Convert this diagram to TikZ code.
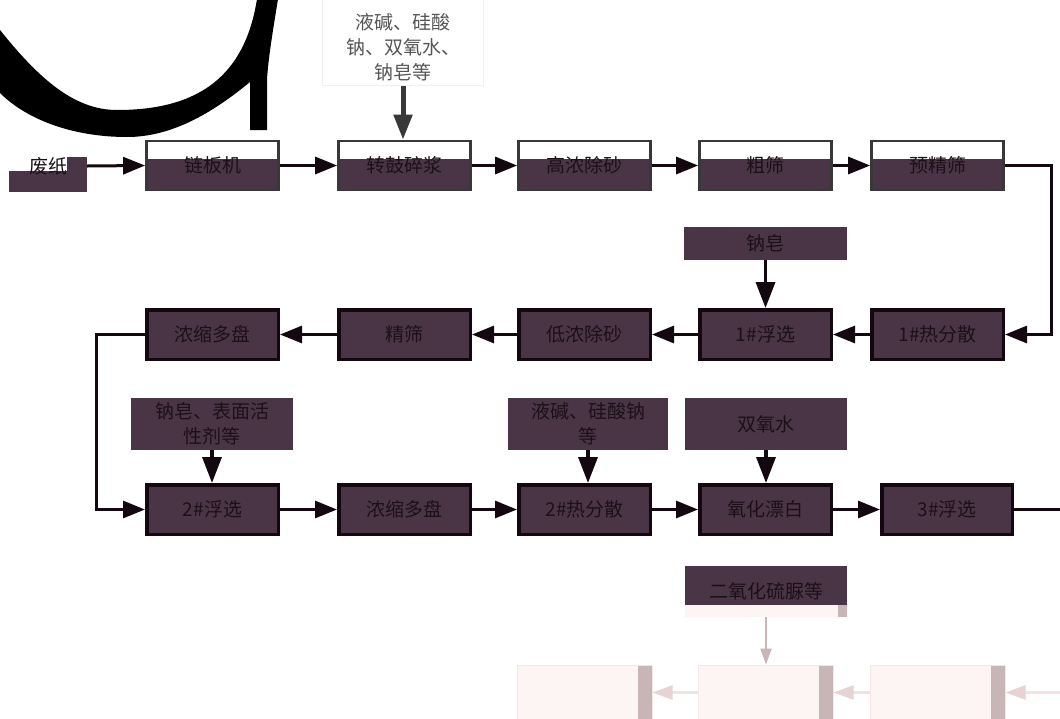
\documentclass[tikz,border=0pt]{standalone}
\usepackage{fontspec}
\setmainfont{Noto Sans CJK SC}
\usetikzlibrary{arrows.meta}
\definecolor{boxfill}{HTML}{4A3546}
\definecolor{edge}{HTML}{140810}
\definecolor{topedge}{HTML}{383838}
\definecolor{txt}{HTML}{1C1018}
\definecolor{chemgray}{HTML}{555555}
\definecolor{faint}{HTML}{F0F0F0}
\definecolor{palefill}{HTML}{FDF5F3}
\definecolor{paleedge}{HTML}{F6E6E6}
\definecolor{palestrip}{HTML}{C8B5B5}
\definecolor{palearrow}{HTML}{E6D4D4}
\definecolor{paleline}{HTML}{F2E2E2}
\tikzset{
  boxfont/.style={font=\fontsize{19}{25}\selectfont},
  topbox/.style={draw=topedge, line width=2.7pt, fill=boxfill, minimum width=132pt,
    minimum height=49pt, inner sep=0pt, text=txt, boxfont,
    path picture={\fill[white] (path picture bounding box.north west) rectangle
      ([yshift=-18pt]path picture bounding box.north east);}},
  procbox/.style={draw=edge, line width=3.5pt, fill=boxfill, minimum width=131.5pt,
    minimum height=49.5pt, inner sep=0pt, text=txt, boxfont},
  addbox/.style={fill=boxfill, inner sep=0pt, text=txt, boxfont, align=center},
  flow/.style={draw=edge, line width=3pt, -{Triangle[length=22pt,width=17pt]}},
  plain/.style={draw=edge, line width=3pt},
  drop/.style={draw=edge, line width=3.5pt, -{Triangle[length=26pt,width=19pt]}},
  topdrop/.style={draw=topedge, line width=5pt, -{Triangle[length=25pt,width=18pt]}},
  palebox/.style={draw=paleedge, line width=1pt, fill=palefill, minimum width=135pt,
    minimum height=55pt, inner sep=0pt,
    path picture={\fill[palestrip] ([xshift=-14pt]path picture bounding box.north east)
      rectangle (path picture bounding box.south east);}},
  palearr/.style={draw=paleline, line width=2.5pt,
    -{Triangle[length=20pt,width=14pt,color=palearrow]}},
  paledrop/.style={draw=palestrip, line width=2pt, -{Triangle[length=16pt,width=11pt]}}
}
\newcommand{\lowtext}[1]{\raisebox{-3pt}{#1}}
\begin{document}
\begin{tikzpicture}[x=1pt,y=-1pt]
\useasboundingbox[fill=white] (0,0) rectangle (1060,718);

% big black stroke shape
\fill[black] (0,30) .. controls (40,80) and (75,110) .. (117,110)
  .. controls (200,110) and (245,75) .. (257,-1) -- (278,-1)
  .. controls (273,30) and (268,60) .. (267,80) -- (267,130) -- (250,130) -- (250,82)
  .. controls (210,115) and (170,137) .. (127,137)
  .. controls (70,137) and (25,118) .. (0,93) -- cycle;

% chemicals at top
\draw[faint, line width=0.8pt] (322,-1) rectangle (483,85);
\node[text=chemgray, boxfont, align=center, inner sep=0pt] (chem1) at (403,47.5)
  {液碱、硅酸\\钠、双氧水、\\钠皂等};
\coordinate (chemout) at (403,86);

% waste paper input
\node[fill=white, minimum width=78pt, minimum height=52pt, inner sep=0pt,
  path picture={\fill[boxfill] ([yshift=-17pt]path picture bounding box.north west)
    rectangle (path picture bounding box.south east);
    \fill[white] (path picture bounding box.north west) rectangle
    ([xshift=58pt,yshift=-31pt]path picture bounding box.north west);}]
  (feizhibox) at (48,166) {};
\node[text=txt, boxfont, inner sep=0pt] (feizhi) at (48.5,166) {废纸};

% row 1
\node[topbox] (r11) at (212.5,165.5) {\lowtext{链板机}};
\node[topbox] (r12) at (404.5,165.5) {\lowtext{转鼓碎浆}};
\node[topbox] (r13) at (584.5,165.5) {\lowtext{高浓除砂}};
\node[topbox] (r14) at (765.5,165.5) {\lowtext{粗筛}};
\node[topbox] (r15) at (937.5,165.5) {\lowtext{预精筛}};

% row 2
\node[procbox] (r21) at (212.5,334.5) {浓缩多盘};
\node[procbox] (r22) at (404.5,334.5) {精筛};
\node[procbox] (r23) at (584.5,334.5) {低浓除砂};
\node[procbox] (r24) at (765.5,334.5) {1\#浮选};
\node[procbox] (r25) at (937.5,334.5) {1\#热分散};
\node[addbox, minimum width=163pt, minimum height=33pt] (naz) at (765.5,243.5) {钠皂};

% row 3
\node[procbox] (r31) at (212.5,509.5) {2\#浮选};
\node[procbox] (r32) at (404.5,509.5) {浓缩多盘};
\node[procbox] (r33) at (584.5,509.5) {2\#热分散};
\node[procbox] (r34) at (765.5,509.5) {氧化漂白};
\node[procbox, minimum width=130.5pt] (r35) at (947,509.5) {3\#浮选};
\node[addbox, minimum width=162pt, minimum height=52pt] (add1) at (212,424) {钠皂、表面活\\性剂等};
\node[addbox, minimum width=160pt, minimum height=52pt] (add2) at (588,424) {液碱、硅酸钠\\等};
\node[addbox, minimum width=162pt, minimum height=52pt] (add3) at (766,424) {双氧水};
\coordinate (out3) at (1061,509.5);

% bottom faded part
\node[fill=boxfill, minimum width=162pt, minimum height=51pt, inner sep=0pt,
  text=txt, boxfont,
  path picture={\fill[palefill] (path picture bounding box.south west) rectangle
    ([yshift=12pt]path picture bounding box.south east);
    \fill[palestrip] ([xshift=-9pt,yshift=12pt]path picture bounding box.south east)
    rectangle (path picture bounding box.south east);}]
  (so2) at (766,591.5) {\raisebox{-2pt}{二氧化硫脲等}};
\node[palebox] (pb1) at (584.5,692.5) {};
\node[palebox] (pb2) at (765.5,692.5) {};
\node[palebox] (pb3) at (937.5,692.5) {};
\coordinate (pin) at (1061,692.5);

% connectors
\draw[topdrop] (chemout) -- (chemout |- r12.north);
\draw[flow] (feizhibox.east) -- (r11.west);
\draw[flow] (r11.east) -- (r12.west);
\draw[flow] (r12.east) -- (r13.west);
\draw[flow] (r13.east) -- (r14.west);
\draw[flow] (r14.east) -- (r15.west);
\draw[flow] (r15.east) -- ++(47,0) |- (r25.east);
\draw[flow] (r25.west) -- (r24.east);
\draw[flow] (r24.west) -- (r23.east);
\draw[flow] (r23.west) -- (r22.east);
\draw[flow] (r22.west) -- (r21.east);
\draw[drop] (naz.south) -- (naz.south |- r24.north);
\draw[flow] (r21.west) -- ++(-49,0) |- (r31.west);
\draw[flow] (r31.east) -- (r32.west);
\draw[flow] (r32.east) -- (r33.west);
\draw[flow] (r33.east) -- (r34.west);
\draw[flow] (r34.east) -- (r35.west);
\draw[plain] (r35.east) -- (out3);
\draw[drop] (add1.south) -- (add1.south |- r31.north);
\draw[drop] (add2.south) -- (add2.south |- r33.north);
\draw[drop] (add3.south) -- (add3.south |- r34.north);
\draw[paledrop] (so2.south) -- (so2.south |- pb2.north);
\draw[palearr] (pin) -- (pb3.east);
\draw[palearr] (pb3.west) -- (pb2.east);
\draw[palearr] (pb2.west) -- (pb1.east);
\end{tikzpicture}
\end{document}
